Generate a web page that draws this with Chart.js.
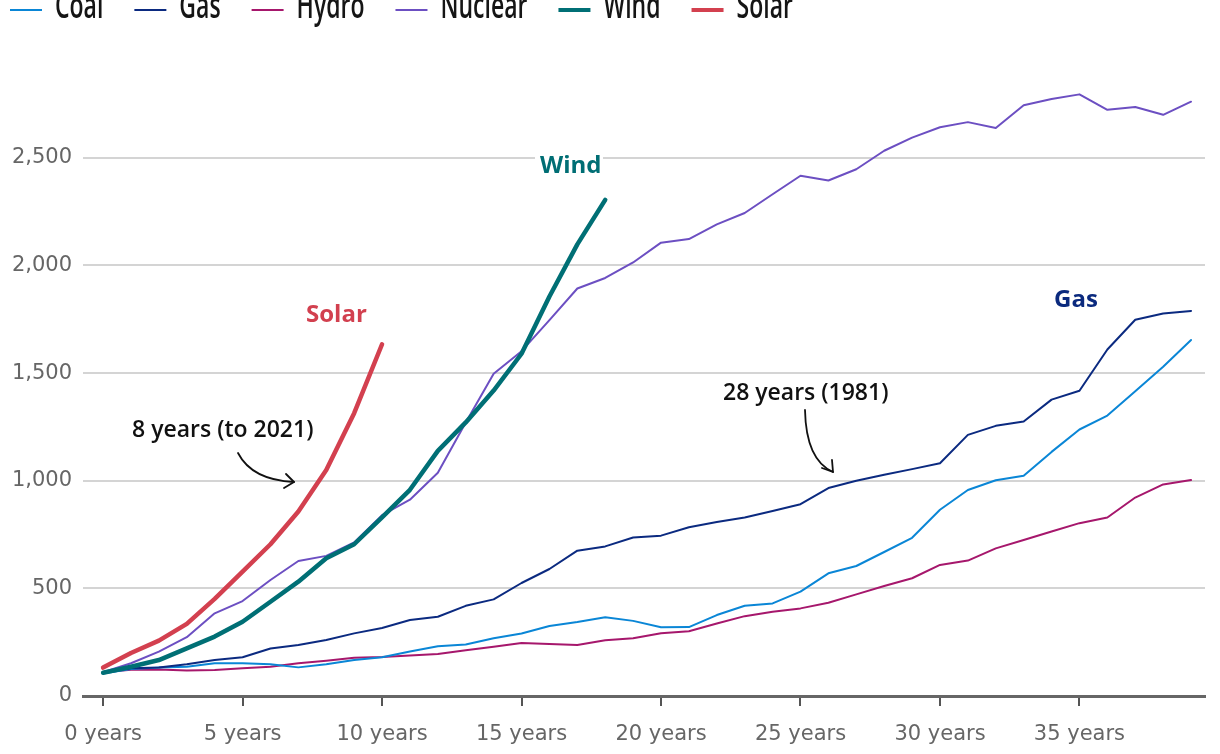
<!DOCTYPE html>
<html>
<head>
<meta charset="utf-8">
<script src="https://cdn.jsdelivr.net/npm/chart.js@4/dist/chart.umd.min.js"></script>
<style>
html,body{margin:0;padding:0;background:#fff;overflow:hidden}
#wrap{position:relative;width:1220px;height:754px}
</style>
</head>
<body>
<div id="wrap"><canvas id="c" width="1220" height="754"></canvas></div>
<script>
// Years since technology reached its starting level
const years = [0,1,2,3,4,5,6,7,8,9,10,11,12,13,14,15,16,17,18,19,20,21,22,23,24,25,26,27,28,29,30,31,32,33,34,35,36,37,38,39];

const coal = [105,125,132,136,152,152,147,133,147,167,180,207,231,239,268,290,325,344,366,349,319,320,376,419,430,485,570,604,669,735,865,957,1002,1023,1134,1238,1303,1416,1530,1654];
const gas = [108,129,132,147,167,180,221,237,260,291,316,353,368,419,449,525,590,675,695,736,745,784,808,829,859,891,966,1000,1028,1054,1081,1213,1255,1275,1377,1418,1610,1748,1777,1789];
const hydro = [110,122,123,118,121,129,136,152,164,178,181,188,195,212,229,246,242,237,259,268,292,301,337,371,391,407,433,472,511,547,609,629,686,725,764,803,829,922,983,1003];
const nuclear = [110,152,206,273,384,441,539,627,651,713,840,912,1037,1271,1497,1602,1746,1893,1942,2014,2106,2123,2191,2244,2331,2417,2395,2447,2533,2594,2642,2666,2639,2744,2773,2795,2723,2736,2700,2761];
const wind = [108,136,167,221,276,345,438,531,640,705,830,958,1139,1271,1419,1590,1856,2098,2305];
const solar = [132,200,257,335,451,578,705,857,1050,1314,1634];

const xTicks = [0,5,10,15,20,25,30,35];
const yTicks = [0,500,1000,1500,2000,2500];

const pts = arr => arr.map((v, i) => ({x: years[i], y: v}));

const topLegend = {
  id: 'topLegend',
  afterDraw(chart) {
    const ctx = chart.ctx;
    ctx.save();
    ctx.font = '600 23px "Open Sans"';
    ctx.textBaseline = 'alphabetic';
    ctx.textAlign = 'left';
    let x = 10;
    chart.data.datasets.forEach(ds => {
      ctx.strokeStyle = ds.borderColor;
      ctx.lineWidth = ds.borderWidth > 3 ? 4 : 2;
      ctx.beginPath();
      ctx.moveTo(x, 10);
      ctx.lineTo(x + 32, 10);
      ctx.stroke();
      x += 45;
      const w = ctx.measureText(ds.label).width;
      ctx.save();
      ctx.translate(x, 18);
      ctx.scale(1, 1.55);
      ctx.fillStyle = '#151515';
      ctx.fillText(ds.label, 0, 0);
      ctx.restore();
      x += w + 31;
    });
    ctx.restore();
  }
};

function arrow(ctx, p0, c, p1, a1, a2) {
  ctx.beginPath();
  ctx.moveTo(p0[0], p0[1]);
  ctx.quadraticCurveTo(c[0], c[1], p1[0], p1[1]);
  ctx.stroke();
  ctx.beginPath();
  ctx.moveTo(a1[0], a1[1]);
  ctx.lineTo(p1[0], p1[1]);
  ctx.lineTo(a2[0], a2[1]);
  ctx.stroke();
}

const notes = {
  id: 'notes',
  beforeDatasetsDraw(chart) {
    const ctx = chart.ctx;
    ctx.save();
    ctx.fillStyle = '#fff';
    ctx.fillRect(535, 149, 68, 28);
    ctx.restore();
  },
  afterDatasetsDraw(chart) {
    const ctx = chart.ctx;
    ctx.save();
    ctx.textAlign = 'left';
    ctx.textBaseline = 'alphabetic';
    ctx.font = '700 24px "Open Sans"';
    ctx.fillStyle = '#d2404f';
    ctx.fillText('Solar', 306, 322);
    ctx.fillStyle = '#006e74';
    ctx.fillText('Wind', 540, 173);
    ctx.fillStyle = '#0b2a7e';
    ctx.fillText('Gas', 1054, 307);

    ctx.font = '600 23px "Open Sans"';
    ctx.lineJoin = 'round';
    ctx.strokeStyle = '#fff';
    ctx.lineWidth = 5;
    ctx.strokeText('8 years (to 2021)', 132, 437);
    ctx.strokeText('28 years (1981)', 723, 400);
    ctx.fillStyle = '#111';
    ctx.fillText('8 years (to 2021)', 132, 437);
    ctx.fillText('28 years (1981)', 723, 400);

    ctx.strokeStyle = '#111';
    ctx.lineWidth = 1.8;
    ctx.lineCap = 'round';
    arrow(ctx, [238, 453], [252, 480], [294, 482], [286, 474], [284, 488]);
    arrow(ctx, [805, 410], [806, 460], [833, 472], [822, 468], [832, 460]);
    ctx.restore();
  }
};

const mk = (label, arr, color, width, order) => ({
  label, data: pts(arr), borderColor: color, backgroundColor: color,
  borderWidth: width, pointRadius: 0, pointHoverRadius: 0, tension: 0, fill: false,
  borderCapStyle: 'round', borderJoinStyle: 'round', order
});

new Chart(document.getElementById('c'), {
  type: 'line',
  data: {
    datasets: [
      mk('Coal', coal, '#0a86d6', 2, 5),
      mk('Gas', gas, '#0b2a80', 2, 4),
      mk('Hydro', hydro, '#a6176c', 2, 6),
      mk('Nuclear', nuclear, '#6c4fc2', 2, 3),
      mk('Wind', wind, '#006f75', 4.5, 1),
      mk('Solar', solar, '#d3404f', 4.5, 0)
    ]
  },
  options: {
    responsive: false,
    animation: false,
    events: [],
    layout: { padding: { top: 61, right: 15, left: 0, bottom: 0 } },
    plugins: { legend: { display: false }, tooltip: { enabled: false } },
    scales: {
      x: {
        type: 'linear', min: -0.72, max: 39.5,
        afterBuildTicks: s => { s.ticks = xTicks.map(v => ({ value: v })); },
        afterFit: s => { s.height = 58; },
        ticks: {
          callback: v => v + ' years',
          font: { family: 'DejaVu Sans', size: 21 }, color: '#666',
          padding: 16, maxRotation: 0, autoSkip: false
        },
        grid: { drawOnChartArea: false, drawTicks: true, tickLength: 10, color: '#555', lineWidth: 2 },
        border: { display: true, color: '#666', width: 3 }
      },
      y: {
        min: 0, max: 2950,
        afterBuildTicks: s => { s.ticks = yTicks.map(v => ({ value: v })); },
        afterFit: s => { s.width = 83; },
        ticks: {
          callback: v => v.toLocaleString('en-US'),
          font: { family: 'DejaVu Sans', size: 21 }, color: '#666', padding: 11
        },
        grid: { drawTicks: false, color: '#d4d4d4', lineWidth: 2 },
        border: { display: false }
      }
    }
  },
  plugins: [topLegend, notes]
});
</script>
</body>
</html>
